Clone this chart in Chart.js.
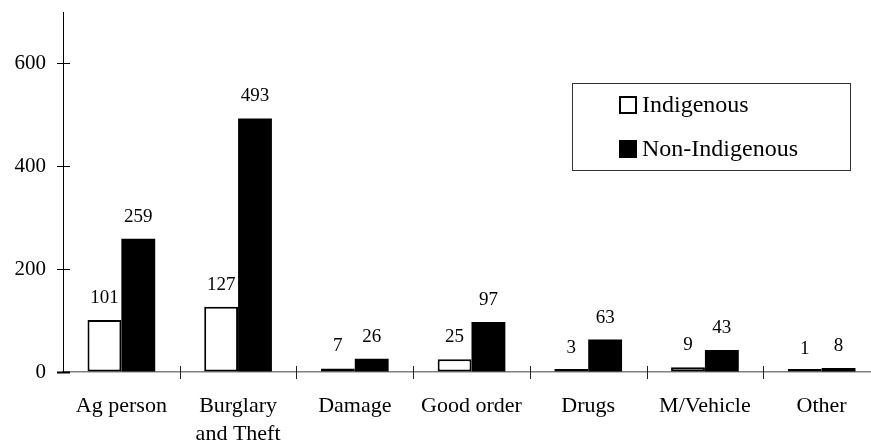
<!DOCTYPE html>
<html>
<head>
<meta charset="utf-8">
<script src="https://cdn.jsdelivr.net/npm/chart.js@4/dist/chart.umd.min.js"></script>
<style>
  html, body { margin: 0; padding: 0; background: #fff; overflow: hidden; }
  #wrap { width: 871px; height: 440px; overflow: hidden; position: relative; }
  canvas { display: block; }
</style>
</head>
<body>
<div id="wrap"><canvas id="c" width="900" height="440"></canvas></div>
<script>
const categories = ['Ag person', ['Burglary', 'and Theft'], 'Damage', 'Good order', 'Drugs', 'M/Vehicle', 'Other'];
const indigenous = [101, 127, 7, 25, 3, 9, 1];
const nonIndigenous = [259, 493, 26, 97, 63, 43, 8];
const yTicks = [0, 200, 400, 600];
const seriesNames = ['Indigenous', 'Non-Indigenous'];

const FONT = "'Liberation Serif', 'Times New Roman', serif";

const decorPlugin = {
  id: 'decor',
  afterDatasetsDraw(chart) {
    const ctx = chart.ctx;
    const ys = chart.scales.y;
    ctx.save();
    ctx.fillStyle = '#000';
    ctx.font = '19px ' + FONT;
    ctx.textAlign = 'center';
    ctx.textBaseline = 'middle';
    chart.data.datasets.forEach((ds, di) => {
      const meta = chart.getDatasetMeta(di);
      meta.data.forEach((el, i) => {
        ctx.fillText(String(ds.data[i]), el.x, ys.getPixelForValue(ds.data[i]) - 22);
      });
    });
    ctx.restore();
  },
  afterDraw(chart) {
    const ctx = chart.ctx;
    const xs = chart.scales.x, ys = chart.scales.y;
    const area = chart.chartArea;
    ctx.save();
    // y cross ticks
    ctx.strokeStyle = '#000';
    yTicks.forEach(v => {
      const y = Math.round(ys.getPixelForValue(v)) + 0.5;
      ctx.lineWidth = v === 0 ? 2 : 1;
      ctx.beginPath();
      ctx.moveTo(area.left - 6, y);
      ctx.lineTo(area.left + 7, y);
      ctx.stroke();
    });
    // x category boundary ticks
    ctx.lineWidth = 1;
    ctx.strokeStyle = '#222';
    const step = xs.getPixelForTick(1) - xs.getPixelForTick(0);
    for (let i = 1; i <= categories.length; i++) {
      const x = Math.round(xs.getPixelForTick(i - 1) + step / 2) + 0.5;
      ctx.beginPath();
      ctx.moveTo(x, area.bottom - 6);
      ctx.lineTo(x, area.bottom + 7);
      ctx.stroke();
    }
    // legend
    const lx = 572, ly = 83, lw = 278, lh = 87;
    ctx.strokeStyle = '#333';
    ctx.lineWidth = 1;
    ctx.strokeRect(lx + 0.5, ly + 0.5, lw, lh);
    ctx.font = '24px ' + FONT;
    ctx.textAlign = 'left';
    ctx.textBaseline = 'middle';
    chart.data.datasets.forEach((ds, di) => {
      const cy = 105 + di * 44;
      ctx.fillStyle = ds.backgroundColor;
      ctx.fillRect(620, cy - 8, 16, 16);
      ctx.strokeStyle = '#000';
      ctx.lineWidth = 2;
      ctx.strokeRect(620, cy - 8, 16, 16);
      ctx.fillStyle = '#000';
      ctx.fillText(seriesNames[di], 642, cy + 1);
    });
    ctx.restore();
  }
};

new Chart(document.getElementById('c'), {
  type: 'bar',
  data: {
    labels: categories,
    datasets: [
      { label: seriesNames[0], data: indigenous, backgroundColor: '#ffffff', borderColor: '#000000', borderWidth: 2, borderSkipped: false, minBarLength: 3 },
      { label: seriesNames[1], data: nonIndigenous, backgroundColor: '#000000', borderColor: '#000000', borderWidth: 0, minBarLength: 3 }
    ]
  },
  options: {
    responsive: false,
    animation: false,
    devicePixelRatio: 1,
    layout: { padding: { top: 12, right: 20, left: 0, bottom: 0 } },
    plugins: { legend: { display: false }, tooltip: { enabled: false } },
    datasets: { bar: { categoryPercentage: 0.58, barPercentage: 1.0 } },
    scales: {
      x: {
        grid: { display: true, drawOnChartArea: false, drawTicks: false },
        border: { display: true, color: '#808080', width: 1.5 },
        ticks: { color: '#000', font: { family: FONT, size: 22, lineHeight: 1.27 }, padding: 20, maxRotation: 0, autoSkip: false },
        afterFit(s) { s.height = 68; s.paddingLeft = 0; s.paddingRight = 0; }
      },
      y: {
        min: 0, max: 700,
        grid: { display: true, drawOnChartArea: false, drawTicks: false },
        border: { display: true, color: '#000', width: 1 },
        ticks: { color: '#000', font: { family: FONT, size: 21 }, padding: 17 },
        afterBuildTicks(s) { s.ticks = yTicks.map(v => ({ value: v })); },
        afterFit(s) { s.width = 63; s.paddingTop = 0; s.paddingBottom = 0; }
      }
    }
  },
  plugins: [decorPlugin]
});
</script>
</body>
</html>
